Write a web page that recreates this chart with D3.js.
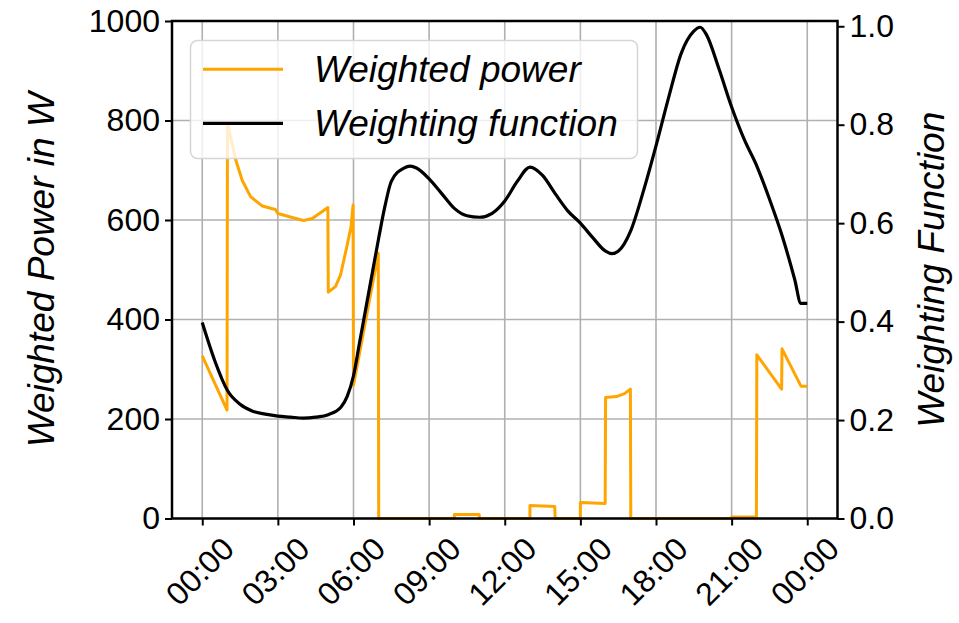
<!DOCTYPE html>
<html>
<head>
<meta charset="utf-8">
<script src="https://cdn.jsdelivr.net/npm/d3@7"></script>
<style>
  html, body { margin: 0; padding: 0; background: #fff; }
  svg { display: block; font-family: "Liberation Sans", Arial, sans-serif; }
</style>
</head>
<body>
<svg id="chart" width="959" height="623"></svg>
<script>
// ---- Data (minutes since midnight) ----
const powerTimes  = [0, 59, 60, 80, 95, 115, 143, 174, 180, 214, 241, 262, 299, 300, 317, 329, 344, 354, 359, 360, 419, 420,
                     600, 600, 659, 660, 780, 780, 839, 840, 900, 900, 959, 960, 986, 1005, 1019, 1020,
                     1260, 1260, 1319, 1320, 1379, 1380, 1425, 1440];
const powerValues = [327, 218, 795, 720, 680, 647, 628, 621, 613, 605, 599, 603, 625, 455, 466, 489, 546, 586, 630, 268, 533, 0,
                     0, 8, 8, 0, 0, 26, 24, 0, 0, 32, 30, 243, 245, 251, 260, 0,
                     0, 3, 3, 329, 260, 341, 266, 266];

const weightHours  = [0, 0.5, 1, 1.5, 2, 2.5, 3, 3.5, 4, 4.5, 5, 5.5, 5.75, 6, 6.25, 6.5, 6.75, 7, 7.25, 7.5, 8, 8.25, 8.5,
                      9, 9.5, 10, 10.5, 11, 11.5, 12, 12.5, 13, 13.5, 14, 14.5, 15, 15.5, 16, 16.25, 16.5, 17, 17.5,
                      18, 18.5, 19, 19.5, 19.75, 20, 20.5, 21, 21.5, 22, 22.5, 23, 23.5, 23.75, 24];
const weightValues = [0.398, 0.32, 0.26, 0.232, 0.218, 0.212, 0.208, 0.206, 0.204, 0.206, 0.211, 0.226, 0.248, 0.29, 0.36, 0.43, 0.50, 0.57, 0.635, 0.685, 0.712, 0.716, 0.712,
                      0.69, 0.66, 0.63, 0.615, 0.612, 0.62, 0.645, 0.685, 0.714, 0.697, 0.66, 0.625, 0.60, 0.57, 0.543, 0.538, 0.543, 0.585, 0.665,
                      0.757, 0.855, 0.945, 0.99, 0.998, 0.983, 0.913, 0.836, 0.77, 0.716, 0.649, 0.575, 0.486, 0.437, 0.437];

const xTickMinutes = [0, 180, 360, 540, 720, 900, 1080, 1260, 1440];
const leftTicks  = [0, 200, 400, 600, 800, 1000];
const rightTicks = [0, 0.2, 0.4, 0.6, 0.8, 1.0];
const seriesNames = ["Weighted power", "Weighting function"];
const seriesColors = ["#FFA500", "#000000"];

// ---- Layout ----
const svg = d3.select("#chart");
const L = 172, R = 837.5, T = 21, B = 518.5;

const x = d3.scaleLinear().domain([-72, 1512]).range([L, R]);
const yL = d3.scaleLinear().domain([0, 1000]).range([B, T]);
const yR = d3.scaleLinear().domain([0, 1.0107]).range([B, T]);

const fmt = m => { const h = Math.floor(m / 60) % 24, mm = m % 60; return String(h).padStart(2, "0") + ":" + String(mm).padStart(2, "0"); };

// grid
const grid = svg.append("g");
grid.selectAll("line.v").data(xTickMinutes).enter().append("line")
  .attr("x1", d => x(d)).attr("x2", d => x(d)).attr("y1", T).attr("y2", B)
  .attr("stroke", "#b0b0b0").attr("stroke-width", 1.6);
grid.selectAll("line.h").data(leftTicks).enter().append("line")
  .attr("x1", L).attr("x2", R).attr("y1", d => yL(d)).attr("y2", d => yL(d))
  .attr("stroke", "#b0b0b0").attr("stroke-width", 1.6);

// series
const powerData = powerTimes.map((t, i) => [t, powerValues[i]]);
const weightData = weightHours.map((h, i) => [h * 60, weightValues[i]]);

svg.append("path").datum(powerData)
  .attr("fill", "none").attr("stroke", seriesColors[0]).attr("stroke-width", 3).attr("stroke-linejoin", "round")
  .attr("d", d3.line().x(d => x(d[0])).y(d => yL(d[1])));

svg.append("path").datum(weightData)
  .attr("fill", "none").attr("stroke", seriesColors[1]).attr("stroke-width", 3.2).attr("stroke-linejoin", "round")
  .attr("d", d3.line().curve(d3.curveMonotoneX).x(d => x(d[0])).y(d => yR(d[1])));

// axes
const tickFont = 32;
const xAxis = svg.append("g").attr("transform", `translate(0,${B})`)
  .call(d3.axisBottom(x).tickValues(xTickMinutes).tickFormat(fmt).tickSize(7).tickSizeOuter(0));
const leftAxis = svg.append("g").attr("transform", `translate(${L},0)`)
  .call(d3.axisLeft(yL).tickValues(leftTicks).tickFormat(d3.format("d")).tickSize(7).tickSizeOuter(0));
const rightAxis = svg.append("g").attr("transform", `translate(${R},0)`)
  .call(d3.axisRight(yR).tickValues(rightTicks).tickFormat(d3.format(".1f")).tickSize(7).tickSizeOuter(0));

[xAxis, leftAxis, rightAxis].forEach(a => {
  a.select(".domain").remove();
  a.selectAll(".tick line").attr("stroke", "#000").attr("stroke-width", 2);
  a.selectAll(".tick text").attr("font-size", tickFont).attr("fill", "#000")
    .attr("font-family", "Liberation Sans, Arial, sans-serif");
});
leftAxis.selectAll(".tick text").attr("x", -12);
rightAxis.selectAll(".tick text").attr("x", 12);

// rotated x labels, centered on tick
xAxis.selectAll(".tick text").each(function () {
  const t = d3.select(this);
  t.attr("text-anchor", "middle").attr("y", 0).attr("dy", "0.35em");
  const bb = this.getBBox();
  const w = bb.width, h = tickFont * 0.75;
  const rh = (w + h) * Math.SQRT1_2;
  t.attr("transform", `translate(-3,${16 + rh / 2}) rotate(-45)`);
});

// spines
svg.append("rect").attr("x", L).attr("y", T).attr("width", R - L).attr("height", B - T)
  .attr("fill", "none").attr("stroke", "#000").attr("stroke-width", 2.5);

// axis labels
const labFont = 37;
svg.append("text").attr("transform", `translate(54,${(T + B) / 2}) rotate(-90)`)
  .attr("text-anchor", "middle").attr("font-size", labFont).attr("font-style", "italic")
  .text("Weighted Power in W");
svg.append("text").attr("transform", `translate(944,${(T + B) / 2}) rotate(-90)`)
  .attr("text-anchor", "middle").attr("font-size", labFont).attr("font-style", "italic")
  .text("Weighting Function");

// legend
const lg = svg.append("g");
lg.append("rect").attr("x", 190.5).attr("y", 40.5).attr("width", 447).attr("height", 118).attr("rx", 7)
  .attr("fill", "#fff").attr("fill-opacity", 0.8).attr("stroke", "#d6d6d6").attr("stroke-width", 1.5);
const rowsY = [69.3, 123.3];
seriesNames.forEach((name, i) => {
  lg.append("line").attr("x1", 203).attr("x2", 283).attr("y1", rowsY[i]).attr("y2", rowsY[i])
    .attr("stroke", seriesColors[i]).attr("stroke-width", i === 0 ? 3 : 3.2);
  lg.append("text").attr("x", 314).attr("y", rowsY[i]).attr("dy", "0.35em")
    .attr("font-size", labFont).attr("font-style", "italic").text(name);
});
</script>
</body>
</html>
